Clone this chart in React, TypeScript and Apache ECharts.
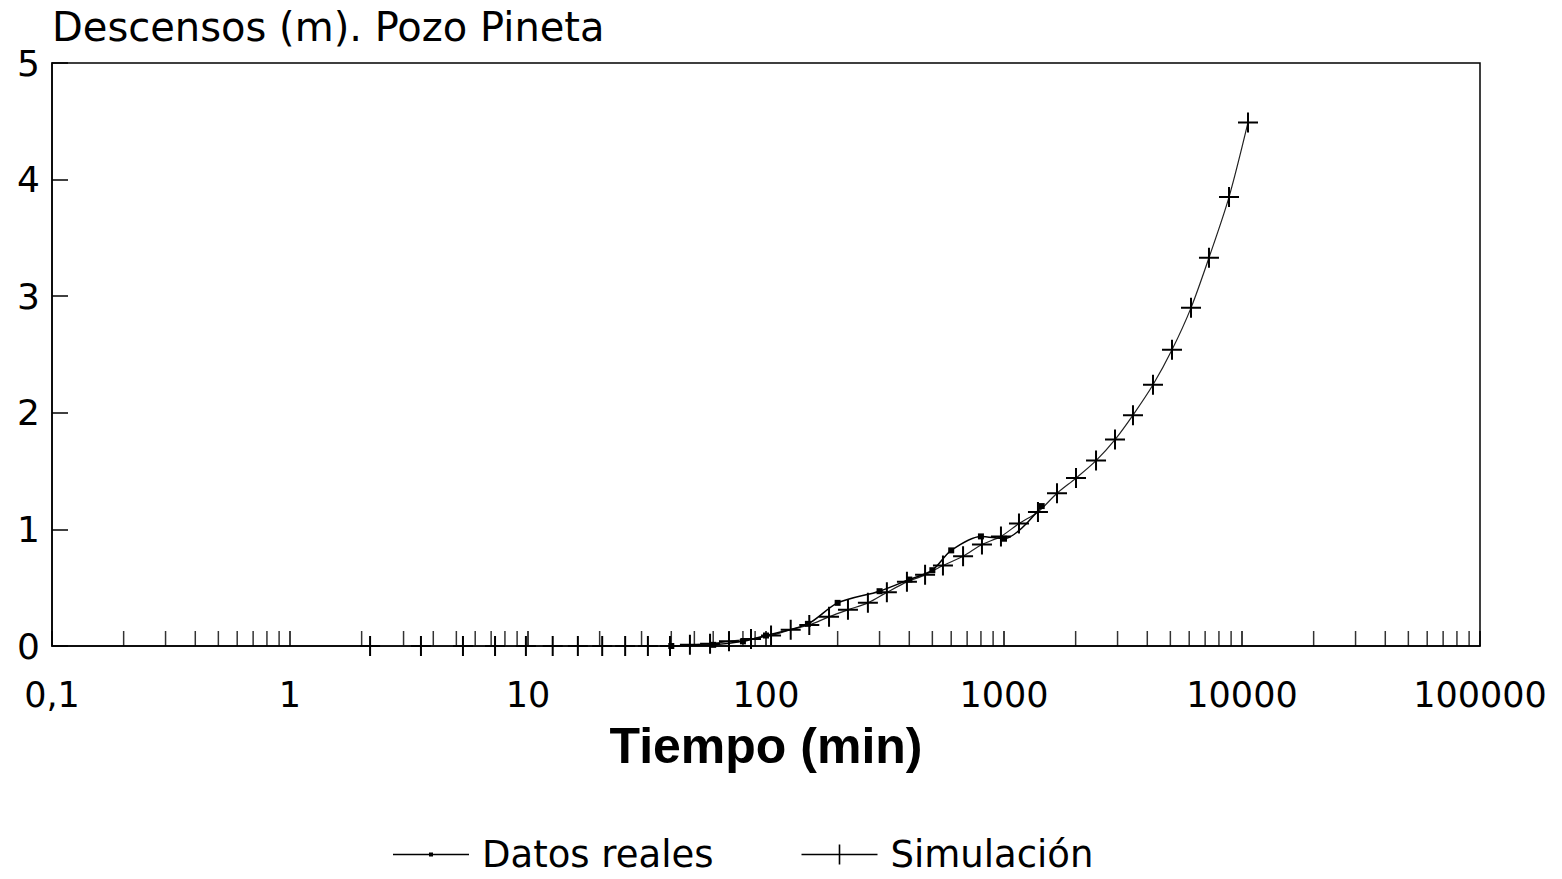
import React, { useEffect, useRef } from "react";
import * as echarts from "echarts";

// Simulación (tiempo en min, descenso en m)
const simTime = [2.17, 3.55, 5.33, 7.27, 9.8, 12.7, 16.2, 20.5, 25.6, 31.9, 39.5, 47.9, 58.2, 69.9, 86.5, 105, 127, 152, 184, 221, 268, 322, 391, 466, 554, 673, 808, 971, 1156, 1389, 1670, 2007, 2436, 2927, 3483, 4227, 5080, 6106, 7265, 8819, 10598];
const simValues = [0, 0, 0, 0, 0, 0, 0, 0, 0, 0, 0, 0.01, 0.02, 0.04, 0.06, 0.09, 0.14, 0.18, 0.25, 0.31, 0.37, 0.46, 0.55, 0.61, 0.69, 0.77, 0.87, 0.94, 1.05, 1.15, 1.31, 1.44, 1.59, 1.77, 1.98, 2.24, 2.54, 2.9, 3.33, 3.85, 4.49];

// Datos reales
const realTime = [40, 60, 80, 100, 150, 200, 300, 400, 500, 600, 800, 1000, 1440];
const realValues = [0, 0.01, 0.04, 0.09, 0.19, 0.37, 0.47, 0.57, 0.65, 0.82, 0.94, 0.92, 1.2];

// Minor tick positions of the log axis
const minorTicks = [
  0.2, 0.3, 0.4, 0.5, 0.6, 0.7, 0.8, 0.9,
  2, 3, 4, 5, 6, 7, 8, 9,
  20, 30, 40, 50, 60, 70, 80, 90,
  200, 300, 400, 500, 600, 700, 800, 900,
  2000, 3000, 4000, 5000, 6000, 7000, 8000, 9000,
  20000, 30000, 40000, 50000, 60000, 70000, 80000, 90000,
];

const yTicks = [0, 1, 2, 3, 4, 5];

const FONT = "DejaVu Sans";
const PLUS = "path://M-1,-10H1V10H-1Z M-10,-1H10V1H-10Z";
const ICON_REAL = "path://M0,1.3H76V2.7H0Z M36,0H40V4H36Z";
const ICON_SIM = "path://M0,9.3H76V10.7H0Z M37.2,0H38.8V20H37.2Z";

export default function App() {
  const ref = useRef<HTMLDivElement>(null);
  useEffect(() => {
    if (!ref.current) return;
    const chart = echarts.init(ref.current, undefined, { renderer: "svg" });
    chart.setOption({
      animation: false,
      backgroundColor: "#fff",
      title: {
        text: "Descensos (m). Pozo Pineta",
        left: 52,
        top: 7,
        padding: 0,
        textStyle: { fontFamily: FONT, fontSize: 40, fontWeight: "normal", color: "#000" },
      },
      legend: {
        left: 393,
        top: 836,
        padding: 0,
        itemWidth: 76,
        itemHeight: 20,
        itemGap: 88,
        data: [
          { name: "Datos reales", icon: ICON_REAL },
          { name: "Simulación", icon: ICON_SIM },
        ],
        textStyle: { fontFamily: FONT, fontSize: 37, lineHeight: 37, color: "#000", padding: [0, 0, 0, 8] },
      },
      grid: {
        left: 52,
        right: 82,
        top: 63,
        bottom: 233,
        show: true,
        borderColor: "#000",
        borderWidth: 1.5,
      },
      xAxis: {
        type: "log",
        logBase: 10,
        min: 0.1,
        max: 100000,
        name: "Tiempo (min)",
        nameLocation: "middle",
        nameGap: 75,
        nameTextStyle: { fontFamily: "Liberation Sans", fontSize: 50, fontWeight: "bold", color: "#000" },
        axisLine: { show: true, lineStyle: { color: "#000", width: 1.5 } },
        axisTick: { show: true, inside: true, length: 15, lineStyle: { color: "#000", width: 1.5 } },
        minorTick: { show: false },
        splitLine: { show: false },
        axisLabel: {
          margin: 31,
          fontFamily: FONT,
          fontSize: 35,
          color: "#000",
          formatter: (v: number) => (v < 1 ? "0,1" : String(Math.round(v))),
        },
      },
      yAxis: {
        type: "value",
        min: 0,
        max: 5,
        interval: 1,
        axisLine: { show: true, lineStyle: { color: "#000", width: 1.5 } },
        axisTick: { show: true, inside: true, length: 16, lineStyle: { color: "#000", width: 1.5 } },
        splitLine: { show: false },
        axisLabel: {
          margin: 12,
          fontFamily: FONT,
          fontSize: 36,
          color: "#000",
          formatter: (v: number) => (yTicks.includes(v) ? String(v) : ""),
        },
      },
      series: [
        {
          name: "ticks",
          type: "scatter",
          silent: true,
          symbol: "rect",
          symbolSize: [1.5, 15],
          symbolOffset: [0, "-50%"],
          itemStyle: { color: "#000" },
          data: minorTicks.map((t) => [t, 0]),
          z: 1,
        },
        {
          name: "Datos reales",
          type: "line",
          smooth: 0.3,
          symbol: "rect",
          symbolSize: 6,
          itemStyle: { color: "#000" },
          lineStyle: { color: "#000", width: 1.5 },
          data: realTime.map((t, i) => [t, realValues[i]]),
          z: 3,
        },
        {
          name: "Simulación",
          type: "line",
          smooth: 0.3,
          symbol: PLUS,
          symbolSize: 20,
          itemStyle: { color: "#000" },
          lineStyle: { color: "#222", width: 1.2 },
          data: simTime.map((t, i) => [t, simValues[i]]),
          z: 2,
        },
      ],
    });
    return () => chart.dispose();
  }, []);
  return (
    <div
      ref={ref}
      style={{ position: "fixed", left: 0, top: 0, width: 1562, height: 879, background: "#fff" }}
    />
  );
}
